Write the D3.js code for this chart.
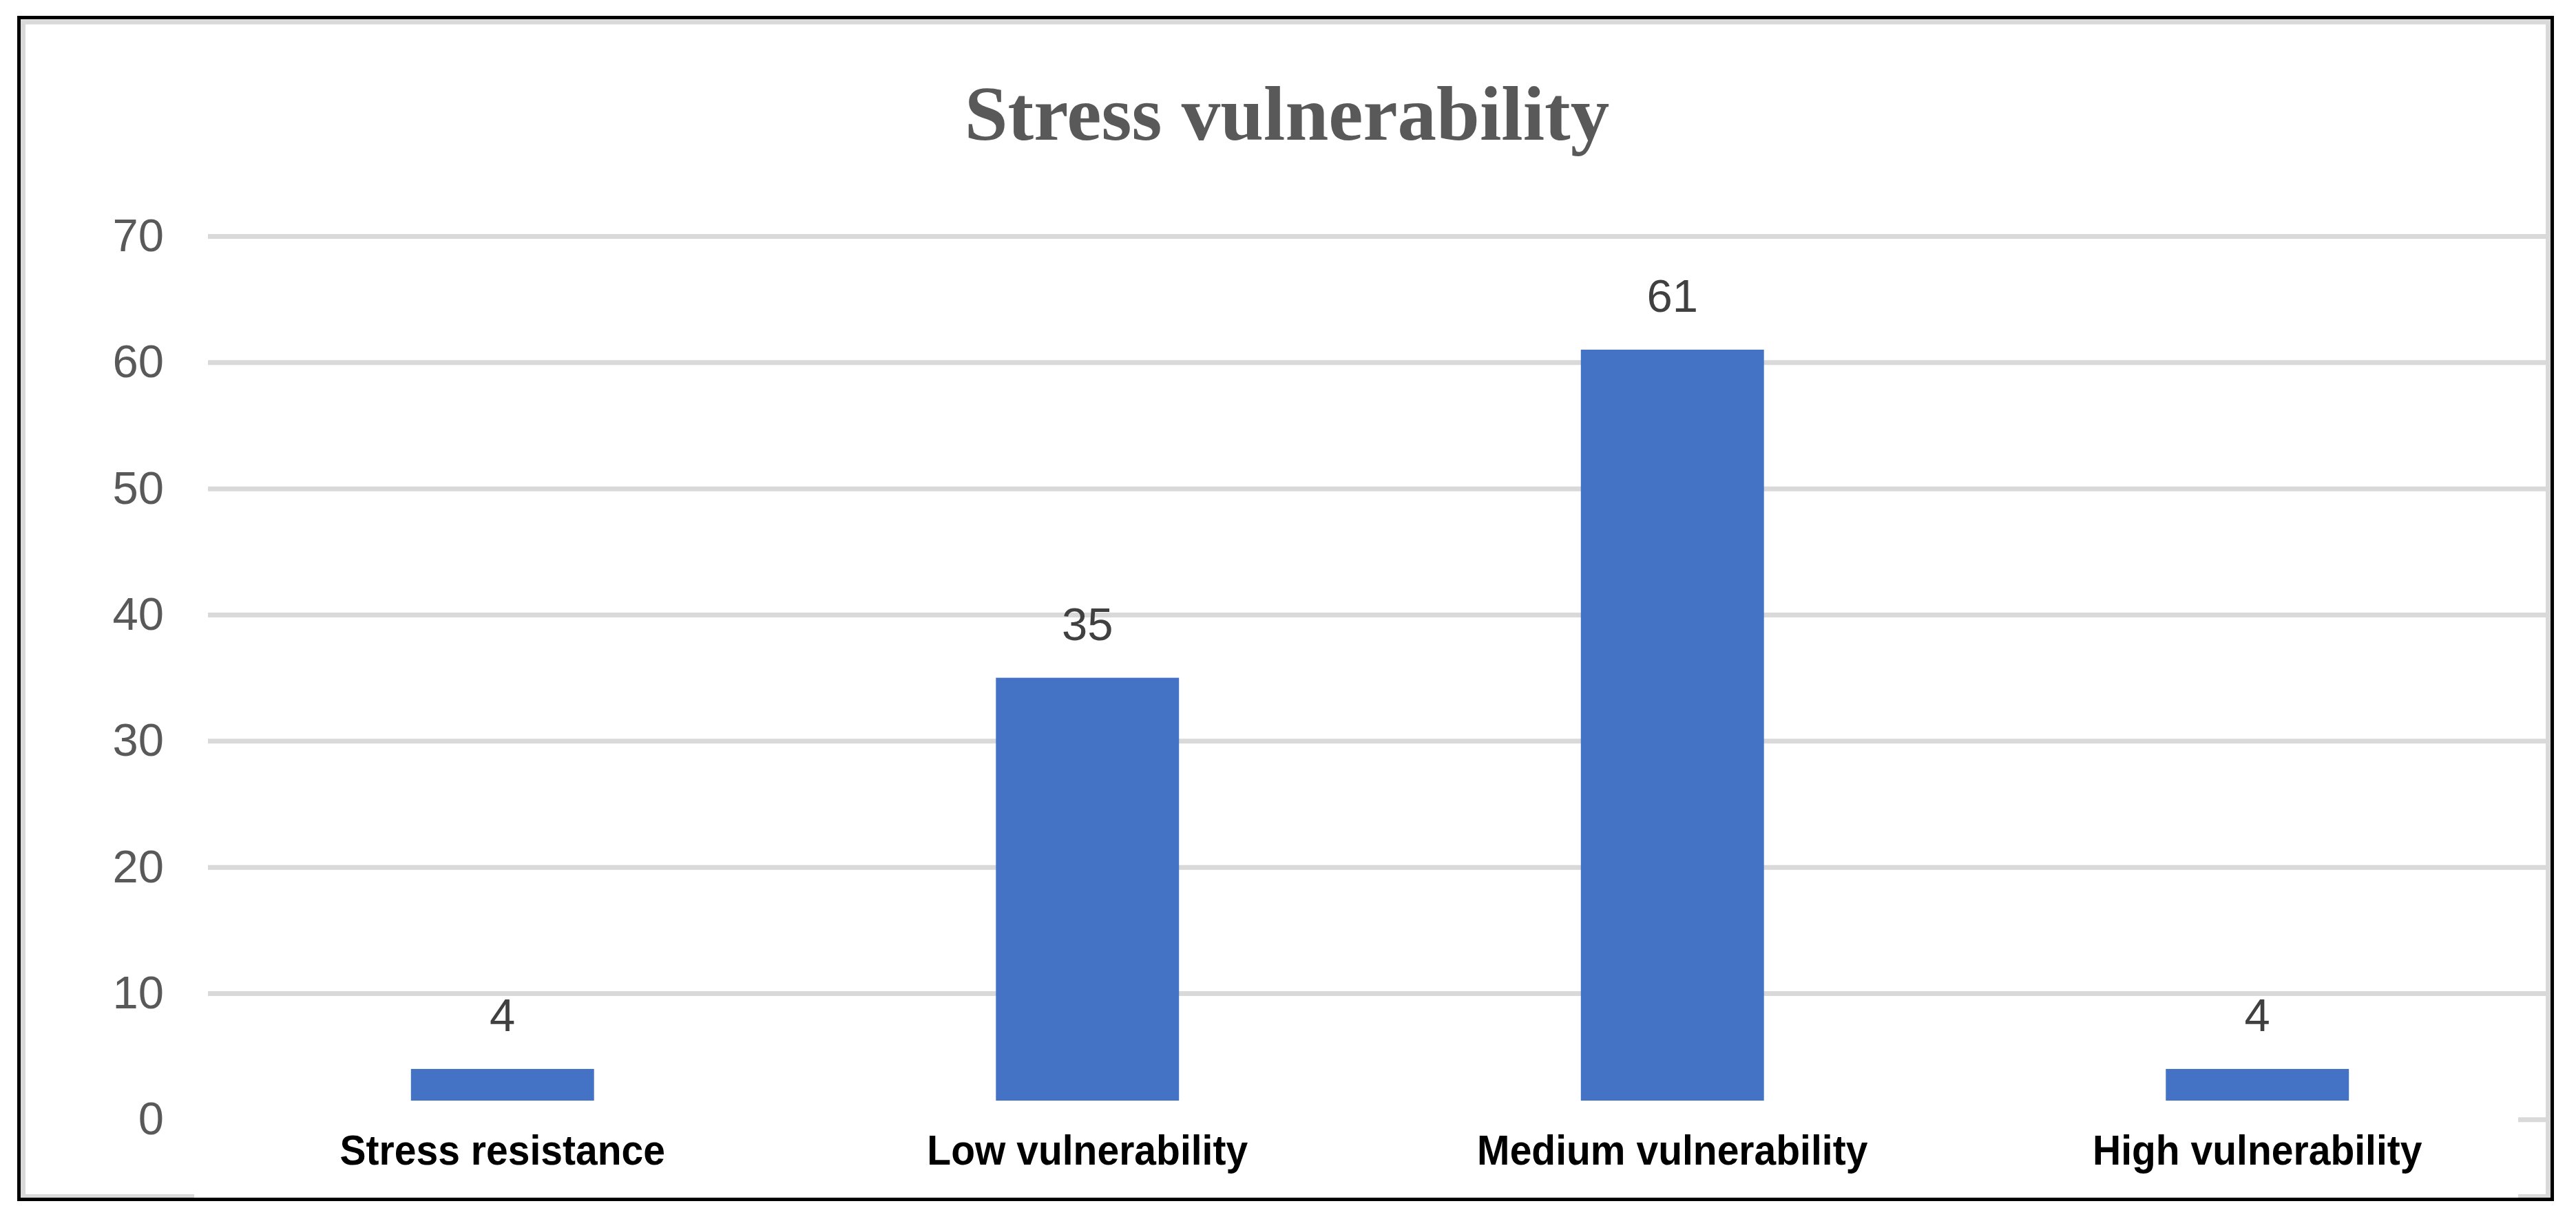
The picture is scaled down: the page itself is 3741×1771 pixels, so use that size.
<!DOCTYPE html>
<html>
<head>
<meta charset="utf-8">
<script src="https://cdn.jsdelivr.net/npm/d3@7"></script>
<style>
  body { margin: 0; background: #fff; }
</style>
</head>
<body>
<div class="bar-chart"></div>
<script>
const categories = ['Stress resistance', 'Low vulnerability', 'Medium vulnerability', 'High vulnerability'];
const counts = [4, 35, 61, 4];
const yTicks = [0, 10, 20, 30, 40, 50, 60, 70];

const width = 3741;
const height = 1771;

const svg = d3
  .select('.bar-chart')
  .append('svg')
  .attr('width', width)
  .attr('height', height);

const xScale = d3
  .scaleBand()
  .domain(categories)
  .range([305, 3703])
  .paddingInner(0.687)
  .paddingOuter(0.3435);

const yScale = d3.scaleLinear().domain([0, 70]).range([1626.3, 343]);

// gridlines + tick labels
const gridLeft = 302;
const gridRight = 3697;

const yAxis = d3
  .axisLeft(yScale)
  .tickValues(yTicks)
  .tickSize(-(gridRight - gridLeft))
  .tickPadding(64);

const yAxisGroup = svg
  .append('g')
  .attr('transform', `translate(${gridLeft}, 0)`)
  .call(yAxis);

yAxisGroup.select('.domain').remove();
yAxisGroup.selectAll('.tick line').attr('stroke', '#d9d9d9').attr('stroke-width', 7);
yAxisGroup
  .selectAll('.tick text')
  .attr('fill', '#595959')
  .style('font-family', '"Liberation Sans", Arial, sans-serif')
  .style('font-size', '67px');

// bars
svg
  .append('g')
  .selectAll('rect')
  .data(counts)
  .enter()
  .append('rect')
  .attr('x', (d, i) => xScale(categories[i]))
  .attr('y', (d) => yScale(d))
  .attr('width', xScale.bandwidth())
  .attr('height', (d) => yScale(0) - yScale(d))
  .attr('fill', '#4472c4');

// value labels
svg
  .append('g')
  .selectAll('text')
  .data(counts)
  .enter()
  .append('text')
  .attr('x', (d, i) => xScale(categories[i]) + xScale.bandwidth() / 2)
  .attr('y', (d) => yScale(d) - 55)
  .attr('text-anchor', 'middle')
  .attr('fill', '#404040')
  .style('font-family', '"Liberation Sans", Arial, sans-serif')
  .style('font-size', '67px')
  .text((d) => d);

// chart area frame
svg
  .append('rect')
  .attr('x', 33.5)
  .attr('y', 32)
  .attr('width', 3667)
  .attr('height', 1706.5)
  .attr('fill', 'none')
  .attr('stroke', '#d9d9d9')
  .attr('stroke-width', 7);

// white strip behind the category labels
svg
  .append('rect')
  .attr('x', 282)
  .attr('y', 1599)
  .attr('width', 3657 - 282)
  .attr('height', 1745 - 1599)
  .attr('fill', '#fff');

// outer black border
svg
  .append('rect')
  .attr('x', 27.5)
  .attr('y', 25.5)
  .attr('width', 3679)
  .attr('height', 1717)
  .attr('fill', 'none')
  .attr('stroke', '#000')
  .attr('stroke-width', 5);

// category labels
svg
  .append('g')
  .selectAll('text')
  .data(categories)
  .enter()
  .append('text')
  .attr('transform', (d) => `translate(${xScale(d) + xScale.bandwidth() / 2}, 1692) scale(0.92, 1)`)
  .attr('text-anchor', 'middle')
  .attr('fill', '#000')
  .style('font-family', '"Liberation Sans", Arial, sans-serif')
  .style('font-weight', '700')
  .style('font-size', '62px')
  .text((d) => d);

// title
svg
  .append('text')
  .attr('x', 1869)
  .attr('y', 203)
  .attr('text-anchor', 'middle')
  .attr('fill', '#595959')
  .style('font-family', '"Liberation Serif", "Times New Roman", serif')
  .style('font-weight', '700')
  .style('font-size', '113px')
  .text('Stress vulnerability');
</script>
</body>
</html>
